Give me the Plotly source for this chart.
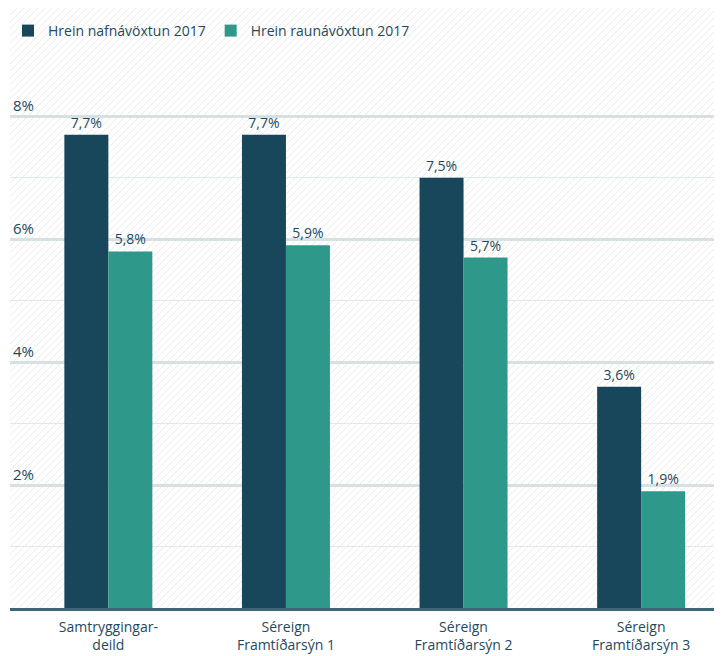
import base64
import plotly.graph_objects as go

categories = ["Samtryggingar-<br>deild", "Séreign<br>Framtíðarsýn 1",
              "Séreign<br>Framtíðarsýn 2", "Séreign<br>Framtíðarsýn 3"]
series_names = ["Hrein nafnávöxtun 2017", "Hrein raunávöxtun 2017"]
nominal_values = [7.7, 7.7, 7.0, 3.6]
nominal_labels = ["7,7%", "7,7%", "7,5%", "3,6%"]
real_values = [5.8, 5.9, 5.7, 1.9]
real_labels = ["5,8%", "5,9%", "5,7%", "1,9%"]
y_ticks = [2, 4, 6, 8]
y_tick_labels = ["2%", "4%", "6%", "8%"]
y_minor_ticks = [1, 3, 5, 7]

NAVY = "#18475c"
TEAL = "#2e998a"
TXT = "#1f4a5e"
FONT = "Open Sans"

# page has an 8px body margin; size the figure so it fills the 722x656 window
W, H = 714, 648
ML, MR, MT, MB = 2, 0, 59, 48
plot_h = H - MT - MB

svg = (
    "<svg xmlns='http://www.w3.org/2000/svg' width='712' height='600'>"
    "<defs><pattern id='p' width='7' height='7' patternUnits='userSpaceOnUse'>"
    "<path d='M-1,1 l2,-2 M0,7 l7,-7 M6,8 l2,-2' stroke='#ebebeb' stroke-width='1'/>"
    "</pattern></defs><rect width='100%' height='100%' fill='url(#p)'/></svg>"
)
src = "data:image/svg+xml;base64," + base64.b64encode(svg.encode()).decode()

x_idx = list(range(len(categories)))

fig = go.Figure()
fig.add_trace(go.Bar(
    x=x_idx, y=nominal_values, name=series_names[0],
    marker=dict(color=NAVY, line=dict(width=0)),
    text=nominal_labels, textposition="outside", cliponaxis=False,
    textfont=dict(family=FONT, size=14, color=TXT),
))
fig.add_trace(go.Bar(
    x=x_idx, y=real_values, name=series_names[1],
    marker=dict(color=TEAL, line=dict(width=0)),
    text=real_labels, textposition="outside", cliponaxis=False,
    textfont=dict(family=FONT, size=14, color=TXT),
))

top_paper = 1 + MT / plot_h
fig.update_layout(
    width=W, height=H,
    margin=dict(l=ML, r=MR, t=MT, b=MB, pad=0),
    paper_bgcolor="white", plot_bgcolor="rgba(0,0,0,0)",
    barmode="group", bargap=0.5045, bargroupgap=0,
    font=dict(family=FONT, size=14, color=TXT),
    showlegend=True,
    legend=dict(orientation="h", x=-0.003, xanchor="left", y=top_paper - 7 / plot_h,
                yanchor="top", font=dict(family=FONT, size=14, color=TXT),
                bgcolor="rgba(0,0,0,0)", itemwidth=30, traceorder="normal"),
    images=[dict(source=src, xref="paper", yref="paper", x=0, y=top_paper,
                 sizex=1, sizey=top_paper, sizing="stretch",
                 xanchor="left", yanchor="top", layer="below")],
)
fig.update_xaxes(
    range=[-0.5538, 3.4553], tickmode="array", tickvals=x_idx, ticktext=categories,
    showgrid=False, zeroline=False, showline=True, linecolor="#3e6674", linewidth=3,
    ticks="", ticklabelstandoff=4, tickfont=dict(family=FONT, size=14, color=TXT),
)
fig.update_yaxes(
    range=[0, 8.8], tickmode="array", tickvals=y_ticks, ticktext=y_tick_labels,
    ticklabelposition="inside top", showgrid=True, gridcolor="#d7e0e3", gridwidth=3,
    zeroline=False, showline=False, ticks="",
    tickfont=dict(family=FONT, size=15, color=TXT),
    minor=dict(tickvals=y_minor_ticks, showgrid=True, gridcolor="#e1e8ea", gridwidth=1),
)

fig.write_html("out.html")
